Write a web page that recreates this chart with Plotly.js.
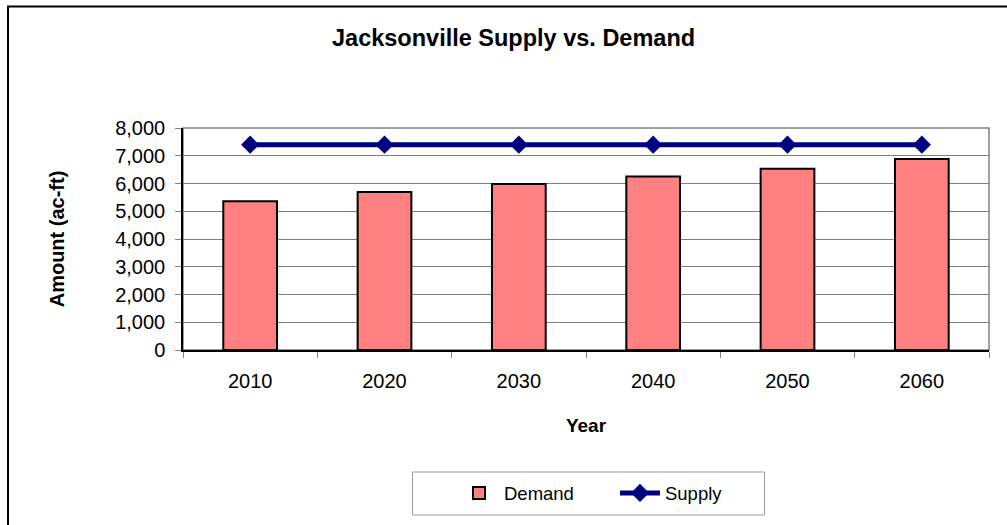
<!DOCTYPE html>
<html>
<head>
<meta charset="utf-8">
<script src="https://cdn.plot.ly/plotly-3.0.1.min.js"></script>
<style>
html,body{margin:0;padding:0;background:#fff;}
#chart{width:1007px;height:525px;}
</style>
</head>
<body>
<div id="chart"></div>
<script>
const years = ['2010', '2020', '2030', '2040', '2050', '2060'];
const demand = [5360, 5690, 5980, 6250, 6530, 6880];
const supply = [7400, 7400, 7400, 7400, 7400, 7400];
const yTicks = [0, 1000, 2000, 3000, 4000, 5000, 6000, 7000, 8000];

const FONT = 'Arial, "Liberation Sans", sans-serif';

const traces = [
  {
    type: 'bar',
    name: 'Demand',
    x: years,
    y: demand,
    marker: {color: '#FF8080', line: {color: '#000000', width: 2}},
    hoverinfo: 'x+y'
  },
  {
    type: 'scatter',
    mode: 'lines+markers',
    name: 'Supply',
    x: years,
    y: supply,
    line: {color: '#000080', width: 5},
    marker: {symbol: 'diamond', size: 14, color: '#000080'}
  }
];

const layout = {
  width: 1007,
  height: 525,
  margin: {l: 183, r: 18, t: 128, b: 175, autoexpand: false},
  paper_bgcolor: '#ffffff',
  plot_bgcolor: '#ffffff',
  font: {family: FONT, color: '#000000', size: 19},
  title: {
    text: '<b>Jacksonville Supply vs. Demand</b>',
    font: {family: FONT, size: 23.5, color: '#000000'},
    xref: 'container', x: 0.51, xanchor: 'center',
    yref: 'container', y: 0.928, yanchor: 'middle'
  },
  bargap: 0.6,
  showlegend: true,
  legend: {
    orientation: 'h',
    x: 0.3362, xanchor: 'left',
    y: -0.646, yanchor: 'middle',
    font: {family: FONT, size: 18.5, color: '#000000'},
    bgcolor: 'rgba(0,0,0,0)',
    borderwidth: 0,
    traceorder: 'normal',
    itemwidth: 40,
    entrywidth: 106
  },
  xaxis: {
    type: 'category',
    showgrid: false,
    showline: true,
    linecolor: '#000000',
    linewidth: 1.5,
    ticks: 'outside',
    tickson: 'boundaries',
    ticklen: 6,
    tickcolor: '#808080',
    ticklabelstandoff: 12,
    tickfont: {family: FONT, size: 20},
    title: {text: '<b>Year</b>', font: {family: FONT, size: 19}, standoff: 28},
    automargin: false,
    fixedrange: true
  },
  yaxis: {
    range: [0, 8000],
    tickvals: yTicks,
    tickformat: ',d',
    showgrid: true,
    gridcolor: '#808080',
    gridwidth: 1,
    showline: true,
    linecolor: '#000000',
    linewidth: 1.5,
    ticks: 'outside',
    ticklen: 6,
    tickcolor: '#808080',
    ticklabelstandoff: 6,
    tickfont: {family: FONT, size: 20},
    zeroline: false,
    title: {text: '<b>Amount (ac-ft)</b>', font: {family: FONT, size: 20}, standoff: 45},
    automargin: false,
    fixedrange: true
  },
  shapes: [
    {type: 'rect', xref: 'paper', yref: 'paper', x0: 0, x1: 1, y0: 0, y1: 1,
     line: {color: '#808080', width: 1.5}, layer: 'below'},
    {type: 'rect', xref: 'paper', yref: 'paper', x0: 0.2847, x1: 0.7215, y0: -0.5496, y1: -0.7432,
     line: {color: '#999999', width: 1}, fillcolor: 'rgba(0,0,0,0)', layer: 'below'},
    {type: 'rect', xref: 'paper', yref: 'paper', x0: -0.2171, x1: 1.05, y0: -0.9, y1: 1.5473,
     line: {color: '#000000', width: 2}, fillcolor: 'rgba(0,0,0,0)', layer: 'below'}
  ]
};

Plotly.newPlot('chart', traces, layout, {displayModeBar: false, staticPlot: false, responsive: false});
</script>
</body>
</html>
